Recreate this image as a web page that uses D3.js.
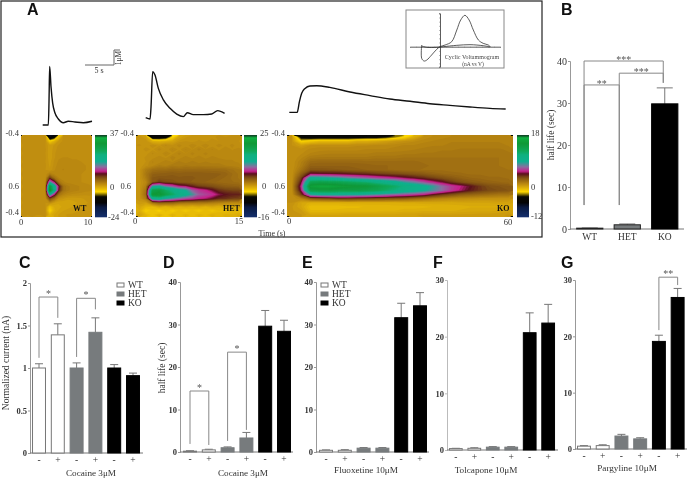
<!DOCTYPE html>
<html><head><meta charset="utf-8">
<style>html,body{margin:0;padding:0;background:#fff}svg{display:block;filter:blur(0.3px)}text{font-family:"Liberation Serif",serif;fill:#333}</style>
<script src="https://cdn.jsdelivr.net/npm/d3@7/dist/d3.min.js"></script>
</head><body><svg id="c" width="688" height="494"></svg>
<script>
// ---------- bar chart data ----------
const groups=["WT","HET","KO"];
const signs=["-","+","-","+","-","+"];
const bGroup=[0,0,1,1,2,2];
const bValues=[0.2,1.0,29.8], bErr=[0.25,1.2,33.6];
const cValues=[1,1.39,1,1.42,1,0.91], cErr=[1.05,1.52,1.06,1.59,1.04,0.94];
const dValues=[0.2,0.5,1.0,3.3,29.6,28.4], dErr=[0.3,0.65,1.2,4.6,33.3,31];
const eValues=[0.4,0.4,0.9,0.9,31.6,34.4], eErr=[0.5,0.55,1.05,1.05,35,37.5];
const fValues=[0.25,0.3,0.5,0.5,20.7,22.4], fErr=[0.3,0.4,0.6,0.6,24.2,25.7];
const gValues=[0.5,0.6,2.3,1.8,19.1,26.9], gErr=[0.6,0.75,2.6,2.0,20.2,28.5];
// ---------- amperometric traces: time (s), concentration (uM) ----------
const wtT=[0,0.97,1.09,1.2,1.43,1.72,2.12,2.7,3.56,4.4,5.57,7,8.5];
const wtV=[0,0,1.6,3.9,2.57,1.46,0.8,0.4,0.15,0.25,0.2,0.15,0.25];
const hetT=[0,0.75,0.92,1.2,1.6,2.18,3.05,4.2,5.35,6.5,7.18,8.2,9.95,11.4,12.4,13.6];
const hetV=[0.49,0.4,1.22,3.56,3.33,2.44,1.67,1.11,0.73,0.56,0.82,0.69,0.69,0.73,0.96,0.78];
const koT=[0,2.1,2.7,3.3,4.2,5.5,7.3,10.8,16.2,21.5,26.8,32.2,37.5,42.8,48.2,53.5,57.7];
const koV=[0.84,0.84,1.56,2.11,2.44,2.6,2.62,2.51,2.2,1.96,1.73,1.58,1.42,1.31,1.2,1.11,1.07];
// ---------- cyclic voltammogram ----------
const cvV=[-0.61,-0.61,-0.53,-0.44,-0.28,-0.11,0,0.17,0.39,0.56,0.69,0.83,0.97,1.11,1.28,1.44,1.61,1.67,1.44,1.0,0.56,0.11,-0.11,-0.44,-0.61];
const cvI=[0.2,-1.4,-1.72,-1.6,-1,-0.32,0,0.2,0.6,2,3.2,3.76,3.2,2,0.8,0.4,0.2,0,0.12,0.24,0.16,0,-0.08,-0.08,0.08];
// ---------- colour plots (current, rows = voltage, cols = time) ----------
const wtGrid=[
[.5,.5,.5,.5,.5,.5,-14,-10,-3,.5,.5,.5,.5,.5,.5,.5],
[.5,.4,.5,.5,.4,.5,-4,-2,0,.5,.5,.5,.5,.5,.5,.5],
[.4,.5,.5,.4,.5,.4,-.5,0,.5,.6,.5,.5,.5,.5,.5,.5],
[.5,.4,.4,.5,.4,.5,-.5,.2,.6,.6,.6,.5,.5,.5,.5,.5],
[.4,.5,.5,.4,.5,.4,-.5,.3,.7,.7,.7,.6,.6,.6,.5,.5],
[.5,.4,.5,.5,.4,.5,-.5,.3,.8,.9,.9,.8,.8,.7,.7,.6],
[.4,.5,.4,.5,.5,.4,-.3,.5,1,1.1,1.1,1,1,.9,.8,.7],
[.5,.4,.5,.4,.4,.5,-.2,.6,1.2,1.3,1.3,1.2,1.1,1,.9,.8],
[.4,.5,.4,.5,.5,.4,0,.8,1.3,1.4,1.3,1.2,1.1,1,.9,.8],
[.5,.4,.5,.4,.4,.5,2,1.2,1.2,1.2,1.1,1,1,.9,.8,.8],
[.4,.5,.4,.5,.5,.4,7,3,1.4,1.2,1.1,1,.9,.9,.8,.7],
[.5,.4,.5,.4,.4,.5,16,10,3,1.5,1.2,1.1,1,.9,.8,.7],
[.4,.5,.4,.5,.5,.4,29,20,9,3,2,1.7,1.5,1.3,1.1,1],
[.5,.4,.5,.4,.4,.5,32,21,8,3,2,1.7,1.5,1.3,1.1,1],
[.4,.5,.4,.5,.5,.4,18,10,3,1.5,1,.8,.7,.6,.5,.5],
[.5,.4,.5,.4,.4,.5,6,3,.5,0,-.4,-.4,-.3,-.2,0,.2],
[.4,.5,.4,.5,.5,.4,1,-.5,-1,-1,-1,-.8,-.6,-.4,-.2,0],
[.5,.4,.5,.4,.4,.5,-3,-1.5,-1.2,-1,-.8,-.6,-.4,-.2,0,0],
[.4,.5,.4,.5,.5,.4,-4.5,-1.8,-1,-.6,-.4,-.3,-.2,0,0,.2],
[.5,.4,.5,.4,.4,.5,-2,-1,-.5,-.2,0,0,.2,.2,.3,.3]];
const hetGrid=[
[.3,-.2,-8,-8,-7,-3,-.5,0,.3,.2,.4,.3,.5,.4,.5,.5],
[.2,.3,-1,-1.2,-1,-.5,.2,.4,.2,.5,.3,.6,.4,.5,.6,.4],
[.5,.2,.6,.3,.8,.4,.9,.5,1,.6,1,.5,.9,.6,.8,.6],
[.1,.6,.3,.9,.4,1.1,.6,1.1,.7,1.2,.7,1.1,.6,1,.7,.8],
[.4,.2,.8,.4,1.1,.6,1.2,.7,1.2,.8,1.2,.8,1,.9,.8,.9],
[.1,.5,.5,1,.6,1.3,.8,1.3,.9,1.3,.9,1.2,1,1,1,.8],
[.3,.4,1.1,.8,1.4,1,1.5,1.1,1.5,1.2,1.4,1.2,1.3,1.1,1.1,1],
[.2,.6,1,1.5,1.3,1.7,1.5,1.8,1.6,1.7,1.6,1.6,1.5,1.4,1.3,1.2],
[.3,1.5,2.2,2.4,2.4,2.6,2.5,2.6,2.6,2.6,2.6,2.5,2.5,2.4,2.1,1.8],
[.2,1.8,3,3.1,3.2,3.3,3.2,3.3,3.3,3.3,3.2,3.2,3.1,2.9,2.4,2],
[.3,1.5,3.4,3.6,3.5,3.5,3.4,3.4,3.4,3.3,3.2,3.1,2.9,2.6,2.3,2],
[.2,1,3.5,4.8,4.2,4,3.6,3.5,3.3,3.1,3,2.8,2.6,2.5,2.4,2.3],
[.2,1.4,11,12,9.5,8.5,7,6.5,5.5,4.6,4.3,4,3.6,3.2,3.1,3],
[.2,2,19,20,17,15,13,12,9,7.8,7.2,6.2,5,4.6,4.4,4.4],
[.2,2.4,21,22,19,17,14.5,13,11,8.8,8.2,7.6,6.5,5.8,5.5,5.4],
[.2,1.6,13,14,11.5,10.5,9.5,8.5,8,7.2,6.8,6,5.2,5,4.6,4.4],
[0,-.2,2,3,3,2.8,2.2,2,2,2,1.8,1.5,1.2,1,.9,.9],
[-.6,-1.4,-1.6,-.8,-1.4,-.7,-1.2,-.8,-1.2,-.8,-1.2,-.7,-1.1,-.7,-.9,-.6],
[-1,-2.6,-2,-2.8,-1.8,-2.6,-1.8,-2.4,-1.8,-2.4,-1.7,-2.3,-1.6,-2,-1.4,-1.6],
[-.4,-1.4,-2,-1.2,-2,-1.2,-1.8,-1.2,-1.8,-1.2,-1.6,-1,-1.5,-1,-1.2,-.8]];
const koGrid=[
[0,-5,-5.5,-5.5,-5.5,-5.5,-5.5,-5.5,-5,-5,-4.5,-3.5,-2.5,-1,0,.3,.4,.5,.5,.5,.5,.5,.5,.5],
[0,-2.5,-2,-1.5,-1.5,-1.5,-1.5,-1,-1,-.8,-.5,-.2,0,.2,.4,.5,.6,.7,.7,.7,.7,.7,.7,.6],
[0,-.5,0,.1,.1,.1,.1,.2,.2,.3,.3,.4,.5,.5,.6,.7,.7,.8,.8,.8,.8,.8,.8,.7],
[0,.1,.3,.4,.4,.4,.4,.4,.5,.5,.5,.6,.6,.7,.8,.8,.9,.9,1,1,1,1,1,.9],
[0,.2,.5,.6,.7,.7,.7,.7,.7,.8,.8,.8,.9,.9,1,1,1.1,1.1,1.1,1.1,1.1,1.1,1.1,1],
[0,.4,.9,1,1,1,1,1,1,1.1,1.1,1.1,1.2,1.2,1.2,1.2,1.2,1.2,1.2,1.2,1.2,1.2,1.2,1.1],
[0,.7,1.5,1.6,1.6,1.6,1.6,1.6,1.5,1.5,1.5,1.5,1.5,1.5,1.4,1.4,1.4,1.3,1.3,1.3,1.2,1.2,1.2,1.1],
[0,.8,1.9,1.9,1.9,1.9,1.9,1.8,1.8,1.7,1.7,1.6,1.6,1.5,1.5,1.4,1.4,1.3,1.3,1.3,1.2,1.2,1.2,1.1],
[0,1.2,2.4,2.4,2.3,2.2,2.1,2,1.9,1.8,1.7,1.6,1.5,1.5,1.4,1.4,1.4,1.3,1.3,1.3,1.2,1.2,1.2,1.2],
[0,2,4.4,4.3,4.2,4.1,3.9,3.7,3.5,3.2,3,2.8,2.6,2.4,2.2,1.9,1.7,1.6,1.5,1.4,1.4,1.3,1.3,1.3],
[0,3,9,8.8,8.4,8,7.2,6.8,6.3,5.8,5.4,5,4.5,4,3.5,3,2.6,2.2,1.9,1.7,1.6,1.5,1.5,1.4],
[0,4,13,13.5,13.2,13,12.5,12,11.5,10.5,9.8,9,7.8,7,6,5,4.2,3.2,2.6,2.2,2,1.8,1.7,1.6],
[0,5,16,16.5,16.5,16,15.5,15.2,15,14,13,12,10.8,9.8,9,8,6.5,5.5,4.8,4,3.2,2.6,2.4,2.2],
[0,4.5,14,14.5,14.5,14,14,14,13.5,13,12,11,10,9.5,8.8,7.6,6.5,5.4,4.6,3.8,3.2,2.8,2.6,2.4],
[0,3,8,8.6,8.8,8.8,8.6,8.4,8,7.5,7,6.5,6,5.6,5,4,3.2,2.6,2,1.8,1.6,1.4,1.2,1.2],
[0,.5,2,2.4,2.6,3,3,2.8,2.8,2.6,2.4,2.2,2,1.6,1.2,.8,.5,.3,.2,.1,0,0,0,0],
[0,-.7,-1.1,-1.1,-1.1,-1.1,-1,-1,-1,-1,-1,-1,-.9,-.9,-.8,-.8,-.8,-.8,-.7,-.7,-.7,-.7,-.6,-.6],
[-.2,-.7,-1.6,-1.6,-1.6,-1.6,-1.5,-1.5,-1.4,-1.4,-1.4,-1.3,-1.3,-1.3,-1.3,-1.2,-1.2,-1.1,-1.1,-1,-1,-1,-1,-.9],
[-.2,-.4,-1.4,-1.4,-1.4,-1.3,-1.3,-1.3,-1.3,-1.3,-1.2,-1.2,-1.1,-1.1,-1,-1,-1,-1,-.9,-.8,-.8,-.8,-.7,-.6],
[-.1,-.2,-.7,-.7,-.7,-.7,-.6,-.6,-.6,-.6,-.6,-.6,-.5,-.5,-.4,-.4,-.4,-.4,-.4,-.4,-.3,-.3,-.3,-.2]];
// colour bar: position along bar (0 bottom - 1 top) and its colour
const barPos=[0,.12,.18,.25,.31,.39,.49,.53,.56,.615,.68,.76,.81,.90,.97,1];
const barCol=["#16306e","#0c1c44","#050505","#0a0a05","#ffd800","#c8960f","#7a4a14","#5a0f1c","#c8208c","#8a6fa0","#10b090","#10b080","#10a858","#109838","#10b040","#103020"];
const tOf=d3.scaleLinear().domain(barPos).range(barCol);

const svg=d3.select("#c");
const T=(x,y,s,o={})=>{const t=svg.append("text").attr("x",x).attr("y",y).text(s)
 .attr("font-size",o.size||9).attr("text-anchor",o.a||"start");
 if(o.b)t.attr("font-weight","bold"); if(o.fill)t.style("fill",o.fill);
 if(o.font)t.style("font-family",o.font);
 if(o.rot!==undefined)t.attr("transform",`rotate(${o.rot} ${x} ${y})`);return t;};

// Panel A frame
svg.append("rect").attr("x",1).attr("y",1).attr("width",541).attr("height",236).attr("fill","none").attr("stroke","#222").attr("stroke-width",1.2);
const letter=(s,x,y)=>T(x,y,s,{size:16,b:1,fill:"#111",font:"'Liberation Sans',sans-serif"});
letter("A",27,15);letter("B",561,15);letter("C",19,268);letter("D",163,268);letter("E",302,268);letter("F",433,268);letter("G",561,268);

// traces
const traceY=d3.scaleLinear().domain([0,1]).range([125,110]);
function trace(ts,vs,x0,pps){const x=d3.scaleLinear().domain([0,1]).range([x0,x0+pps]);
 const line=d3.line().x(i=>x(ts[i])).y(i=>traceY(vs[i])).curve(d3.curveMonotoneX);
 svg.append("path").attr("d",line(d3.range(ts.length))).attr("fill","none").attr("stroke","#111").attr("stroke-width",1.4);}
trace(wtT,wtV,42.7,5.8);trace(hetT,hetV,145.7,5.8);trace(koT,koV,289.3,3.75);
// scale bar
const sb=svg.append("g").attr("stroke","#666").attr("fill","none");
sb.append("path").attr("d","M85,65H114V50H120");
T(99,73,"5 s",{size:8,a:"middle"});
T(121,58,"1μM",{size:7.5,a:"middle",rot:-90});

// CV inset
svg.append("rect").attr("x",406).attr("y",10).attr("width",98).attr("height",58).attr("fill","#fff").attr("stroke","#888");
const cvX=d3.scaleLinear().domain([-1,2]).range([410,500]);
const cvY=d3.scaleLinear().domain([-2.4,4]).range([66.7,13.3]);
const cvx=svg.append("g").attr("transform",`translate(0,${cvY(0)})`).call(d3.axisBottom(cvX).ticks(12).tickSize(1).tickFormat(""));
const cvy=svg.append("g").attr("transform",`translate(${cvX(0)},0)`).call(d3.axisLeft(cvY).ticks(12).tickSize(1).tickFormat(""));
[cvx,cvy].forEach(g=>{g.selectAll("path").attr("stroke","#333").attr("stroke-width",.8);g.selectAll("line").attr("stroke","#777").attr("stroke-width",.5);});
svg.append("path").attr("d",d3.line().x(i=>cvX(cvV[i])).y(i=>cvY(cvI[i])).curve(d3.curveCatmullRom)(d3.range(cvV.length)))
 .attr("fill","none").attr("stroke","#333").attr("stroke-width",.8);
T(472,59,"Cyclic Voltammogram",{size:6,a:"middle",fill:"#444"});
T(473,66,"(nA vs V)",{size:5.5,a:"middle",fill:"#444"});

// colour plots with d3.contours
function colourPlot(grid,lo,hi,x0,x1,barX,barW,name,nameX,labs){
 const y0=135,y1=217,rows=grid.length,cols=grid[0].length,flat=grid.flat();
 const val2t=d3.scaleLinear().domain([lo,hi]).range([0,1]).clamp(true);
 const ts=d3.range(0,1.001,0.008);
 const thresholds=ts.map(t=>lo+(hi-lo)*t);
 const cs=d3.contours().size([cols,rows]).thresholds(thresholds)(flat);
 const px=d3.scaleLinear().domain([0,cols]).range([x0,x1]);
 const py=d3.scaleLinear().domain([0,rows]).range([y0,y1]);
 const path=d3.geoPath(d3.geoTransform({point(x,y){this.stream.point(px(x),py(y));}}));
 svg.append("rect").attr("x",x0).attr("y",y0).attr("width",x1-x0).attr("height",y1-y0).attr("fill",tOf(val2t(d3.min(flat))));
 svg.append("g").selectAll("path").data(cs).join("path").attr("d",path).attr("fill",d=>tOf(val2t(d.value)));
 const levels=d3.range(0,82);
 const by=d3.scaleLinear().domain([0,82]).range([y1,y0]);
 svg.append("g").selectAll("rect").data(levels).join("rect").attr("x",barX).attr("width",barW)
  .attr("y",d=>by(d+1)).attr("height",1.3).attr("fill",d=>tOf((d+.5)/82));
 T(nameX,211,name,{size:8,b:1,fill:"#111"});
 labs.forEach(l=>T(l[0],l[1],l[2],{size:8.5,a:l[3]||"start"}));
}
colourPlot(wtGrid,-24,37,21,92,95,12,"WT",73,[[19,136,"-0.4","end"],[19,189,"0.6","end"],[19,215,"-0.4","end"],[21,225,"0","middle"],[88,225,"10","middle"],[110,136,"37"],[110,190,"0"],[108,220,"-24"]]);
colourPlot(hetGrid,-16,25,136,242,244,13,"HET",223,[[134,136,"-0.4","end"],[131,189,"0.6","end"],[134,215,"-0.4","end"],[135,224,"0","middle"],[239,224,"15","middle"],[260,136,"25"],[262,189,"0"],[258,220,"-16"]]);
colourPlot(koGrid,-12,18,287,513,517,12,"KO",497,[[285,136,"-0.4","end"],[285,189,"0.6","end"],[285,215,"-0.4","end"],[289,224,"0","middle"],[508,225,"60","middle"],[531,136,"18"],[531,190,"0"],[531,219,"-12"]]);
T(272,236,"Time (s)",{size:8,a:"middle"});

// bar panels
const fills=["#ffffff","#777b7d","#000000"];
function barPanel(o){
 const y=d3.scaleLinear().domain([0,o.max]).range([o.y0,o.yT]);
 const x=d3.scaleBand().domain(d3.range(o.vals.length)).range([o.x0,o.x1]).paddingInner(o.pad).paddingOuter(o.pad/2);
 const ax=svg.append("g").attr("transform",`translate(${o.ax},0)`).call(d3.axisLeft(y).tickValues(o.ticks).tickSize(2).tickPadding(1).tickFormat(d=>o.fmt?o.fmt(d):d));
 ax.select("path").attr("stroke",o.axCol||"#999").attr("stroke-width",1);
 ax.selectAll("line").attr("stroke",o.axCol||"#999");
 ax.selectAll("text").style("font-family","'Liberation Serif',serif").attr("font-size",o.tickSize||8.5).attr("font-weight",o.tickBold===false?"normal":"bold");
 const bx=svg.append("g").attr("transform",`translate(0,${o.y0})`).call(d3.axisBottom(x).tickSize(0).tickPadding(o.xPad||2).tickFormat(i=>o.labels[i]));
 bx.select(".domain").remove();
 bx.selectAll("text").style("font-family","'Liberation Serif',serif").attr("font-size",o.xSize||9.5);
 svg.append("line").attr("x1",o.ax).attr("x2",o.end).attr("y1",o.y0).attr("y2",o.y0).attr("stroke","#777");
 const idx=d3.range(o.vals.length);
 // error bars
 const eb=svg.append("g").attr("stroke","#777");
 eb.selectAll(".s").data(idx).join("line").attr("x1",i=>x(i)+x.bandwidth()/2).attr("x2",i=>x(i)+x.bandwidth()/2).attr("y1",i=>y(o.vals[i])).attr("y2",i=>y(o.err[i]));
 eb.selectAll(".c").data(idx).join("line").attr("x1",i=>x(i)+x.bandwidth()/2-o.cap).attr("x2",i=>x(i)+x.bandwidth()/2+o.cap).attr("y1",i=>y(o.err[i])).attr("y2",i=>y(o.err[i]));
 // bars
 const g=o.group;
 svg.append("g").selectAll("rect").data(idx).join("rect")
  .attr("x",i=>x(i)).attr("width",x.bandwidth())
  .attr("y",i=>y(o.vals[i])).attr("height",i=>o.y0-y(o.vals[i]))
  .attr("fill",i=>fills[g[i]]).attr("stroke",i=>g[i]==0?(o.wtStroke||"#777"):(g[i]==1?(o.hetStroke||"#777b7d"):"#000")).attr("stroke-width",1);
 // brackets
 (o.br||[]).forEach(b=>{
  const xa=x(b.a)+x.bandwidth()/2+(b.da||0), xb=x(b.b)+x.bandwidth()/2+(b.db||0);
  svg.append("path").attr("d",d3.line()([[xa,y(b.l)],[xa,y(b.top)],[xb,y(b.top)],[xb,y(b.r)]])).attr("fill","none").attr("stroke","#888");
  T((xa+xb)/2+(b.dt||0),y(b.top)+(o.starDy===undefined?0:o.starDy),b.s,{size:10,a:"middle",fill:"#555"});
 });
 if(o.xlabel)T(o.lx,o.ly,o.xlabel,{size:9.2,a:"middle"});
 if(o.ylabel)T(o.yx,o.yy,o.ylabel,{size:9.5,a:"middle",rot:-90});
}
const legend=(sx,tx,ys)=>groups.forEach((n,i)=>{
 svg.append("rect").attr("x",sx).attr("y",ys[i]-2).attr("width",7).attr("height",4).attr("fill",fills[i]).attr("stroke",i==0?"#777":fills[i]);
 T(tx,ys[i]+3,n,{size:9.5});
});
barPanel({vals:bValues,err:bErr,labels:groups,group:[0,1,2],max:40,y0:229,yT:61,x0:571,x1:683.5,pad:.3,ax:570,end:684,ticks:[0,10,20,30,40],cap:8,tickBold:false,tickSize:10,xSize:9.5,xPad:4,wtStroke:"#222",hetStroke:"#222",starDy:2,
 br:[{a:0,b:2,top:40,l:5.7,r:34.8,s:"***",da:-5.7,db:-1.5},{a:1,b:2,top:37.1,l:5.7,r:34.8,s:"***",da:-8,db:-1.5,dt:0},{a:0,b:1,top:34.3,l:5.7,r:5.7,s:"**",da:-5.7,db:-8}],
 ylabel:"half life (sec)",yx:554,yy:135});
barPanel({vals:cValues,err:cErr,labels:signs,group:bGroup,max:2,y0:453,yT:283,x0:29.6,x1:142.4,pad:.31,ax:30,end:143,ticks:[0,0.5,1,1.5,2],fmt:d=>d,cap:4,xPad:3,
 br:[{a:0,b:1,top:1.835,l:1.12,r:1.59,s:"*"},{a:2,b:3,top:1.82,l:1.13,r:1.69,s:"*"}],
 xlabel:"Cocaine 3μM",lx:91,ly:476,ylabel:"Normalized current (nA)",yx:9,yy:363});
barPanel({vals:dValues,err:dErr,labels:signs,group:bGroup,max:40,y0:452,yT:282,x0:180.6,x1:293.4,pad:.31,ax:180,end:293,ticks:[0,10,20,30,40],cap:4,xPad:3,
 br:[{a:0,b:1,top:14.35,l:1.9,r:1.65,s:"*"},{a:2,b:3,top:23.5,l:2.6,r:5.2,s:"*"}],
 xlabel:"Cocaine 3μM",lx:243,ly:476,ylabel:"half life (sec)",yx:165,yy:368});
barPanel({vals:eValues,err:eErr,labels:signs,group:bGroup,max:40,y0:452,yT:282,x0:316.6,x1:429.4,pad:.31,ax:316,end:429,ticks:[0,10,20,30,40],cap:4,xPad:3,
 xlabel:"Fluoxetine 10μM",lx:366,ly:473});
barPanel({vals:fValues,err:fErr,labels:signs,group:bGroup,max:30,y0:450,yT:280,x0:446.6,x1:557.4,pad:.31,ax:447,end:558,ticks:[0,10,20,30],cap:4,axCol:"#bbb",xPad:3,
 xlabel:"Tolcapone 10μM",lx:486,ly:473});
barPanel({vals:gValues,err:gErr,labels:signs,group:bGroup,max:30,y0:449,yT:280,x0:574.6,x1:687,pad:.31,ax:575,end:687,ticks:[0,10,20,30],cap:4,xPad:3,
 br:[{a:4,b:5,top:30.5,l:21.1,r:29.1,s:"**"}],
 xlabel:"Pargyline 10μM",lx:627,ly:471});
legend(117,128,[285,294,303]);
legend(321,332,[285,294,303]);
</script></body></html>
